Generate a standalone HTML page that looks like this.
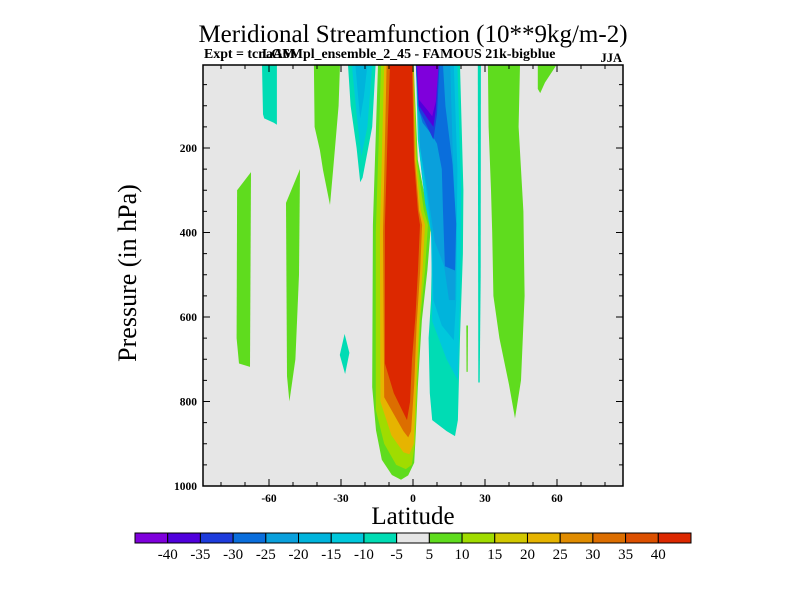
<!DOCTYPE html>
<html><head><meta charset="utf-8"><style>
body{margin:0;background:#fff;width:800px;height:600px;overflow:hidden}
svg{display:block;font-family:"Liberation Serif",serif}
</style></head><body>
<svg id="c" width="800" height="600" xmlns="http://www.w3.org/2000/svg">
<text x="413" y="42" text-anchor="middle" font-size="25">Meridional Streamfunction (10**9kg/m-2)</text>
<text x="204" y="58" font-size="13.9" font-weight="bold">Expt = tcnaA6Mpl_ensemble_2_45 - FAMOUS 21k-bigblue</text>
<text x="262" y="58" font-size="13.9" font-weight="bold">LGM</text>
<text x="622" y="62" text-anchor="end" font-size="12.5" font-weight="bold">JJA</text>
<text transform="translate(136,273) rotate(-90)" text-anchor="middle" font-size="26">Pressure (in hPa)</text>
<text x="413" y="524" text-anchor="middle" font-size="25">Latitude</text>
<g id="plot"></g><g id="axes"></g><g id="cbar"></g>
</svg>
<script>
const levelColors=["#7f00dc","#5000dc","#1e3cdc","#0a6edc","#0aa0dc","#00b4dc","#00c8dc","#00dcb4","#e6e6e6","#5fdc1e","#a0dc00","#d2c800","#e6b400","#e08c00","#dc6e00","#dc5000","#dc2800"];
const levelLabels=["-40","-35","-30","-25","-20","-15","-10","-5","5","10","15","20","25","30","35","40"];
const xTicks=[-60,-30,0,30,60];
const yTicks=[200,400,600,800,1000];
// contour regions: level index into levelColors, polygon in [lat, hPa]
const regionLevels=[7,7,9,9,9,9,7,7,6,5,9,9,9,10,12,14,16,7,6,5,4,3,2,1,0];
const regionPolys=[
[[-27.1,0],[-15.6,0],[-17,150],[-21,270],[-22,281],[-23.5,200],[-26,100]],
[[-62.9,0],[-56.7,0],[-56.7,145],[-58,140],[-62,130],[-62.5,120]],
[[-41.3,0],[-30.4,0],[-31,100],[-32.5,200],[-33.3,252],[-34.6,335],[-37.5,252],[-38.8,205],[-41,150]],
[[-73.3,300],[-67.5,257],[-67.9,718],[-72.5,710],[-73.5,650]],
[[-52.9,330],[-50,290],[-47.1,250],[-47.5,500],[-49,700],[-51.5,800],[-52.5,740]],
[[31.2,0],[44.6,0],[44,150],[46,350],[46.5,550],[45,750],[42.5,840],[40,760],[36,650],[33.5,550],[33,400],[32.5,300],[31.5,150]],
[[-30.5,690],[-28.5,640],[-26.5,685],[-28.3,735]],
[[27,0],[28.3,0],[28.2,500],[27.8,755],[27.2,755]],
[[-25.5,0],[-17,0],[-19,150],[-21.5,220],[-23.5,120]],
[[-24,0],[-19,0],[-20.5,80],[-22,130],[-23,70]],
[[52,0],[59.8,0],[55,45],[53,70],[52,60]],
[[22.2,620],[22.9,620],[22.8,730],[22.3,730]],
[[-14.6,0],[0.3,0],[2,228],[6,347],[7.5,382],[6,489],[3.7,607],[2,766],[1.2,870],[0.5,945],[-2,975],[-5,985],[-8.8,974],[-13,938],[-15.4,868],[-17,766],[-16.7,382]],
[[-13.3,0],[0.2,0],[1.6,228],[4.5,347],[6.2,382],[5,489],[3,607],[1.7,766],[0.8,900],[-0.5,950],[-3,960],[-7,950],[-12,900],[-15.5,820],[-15.5,400]],
[[-12,0],[0.1,0],[1.2,228],[3.2,347],[5,382],[4,489],[2.5,620],[1.3,760],[0.3,900],[-1.5,925],[-4,920],[-9,880],[-13.6,800],[-13.8,400]],
[[-11,0],[0,0],[0.8,228],[2.5,347],[3.8,382],[3,489],[1.5,620],[0.5,760],[-0.8,870],[-2,885],[-4,870],[-12,790],[-12.5,400]],
[[-9.6,0],[-0.4,0],[0.4,228],[2,347],[2.9,382],[2.1,489],[1,600],[-0.4,700],[-1.2,800],[-2.5,844],[-8,780],[-11.7,710],[-11.7,382],[-10.5,150]],
[[1.2,0],[19.6,0],[21,300],[20.8,450],[19.6,650],[18.7,844],[17.5,882],[14,870],[8,844],[7,780],[6.5,650],[7.5,560],[8,420],[7,360],[4,280],[2,180]],
[[1.2,0],[18.5,0],[20,300],[19.6,560],[18.7,750],[14,700],[8,610],[7.8,500],[7.5,400],[5,330],[2.5,200]],
[[1.2,0],[17,0],[18.5,250],[18,560],[17,655],[12,620],[8.5,560],[8,420],[6,320],[3,200]],
[[1.2,0],[15.5,0],[16.5,200],[18,420],[17.5,560],[15,560],[13,480],[9,420],[6,300],[3,200],[2,100]],
[[1.2,0],[12.5,0],[13.5,100],[16.5,240],[18,380],[17.5,490],[13.3,480],[12.5,350],[12,250],[10,190],[8,170],[4,140],[2,100]],
[[1.2,0],[11,0],[10,120],[8.5,180],[6,150],[2.5,110]],
[[1.5,0],[10.5,0],[9.5,110],[8.5,150],[6,130],[2.5,100]],
[[1.7,0],[10.7,0],[9.5,90],[8,125],[6,110],[2.5,86]]
];
const NS="http://www.w3.org/2000/svg";
const X0=203,X1=623,Y0=65,Y1=486;
const xs=lat=>413+lat*2.4;
const ys=p=>Math.max(Y0,Y1-(1000-p)*0.4225);
function mk(t,a,parent){const e=document.createElementNS(NS,t);for(const k in a)e.setAttribute(k,a[k]);parent.appendChild(e);return e;}
const plot=document.getElementById('plot');
const clip=mk('clipPath',{id:'pc'},plot);mk('rect',{x:X0,y:Y0,width:X1-X0,height:Y1-Y0},clip);
const bg=mk('rect',{x:X0,y:Y0,width:X1-X0,height:Y1-Y0,fill:'#e6e6e6'},plot);


const g=mk('g',{'clip-path':'url(#pc)'},plot);
regionPolys.forEach((poly,i)=>{
  const pts=poly.map(([la,p])=>xs(la).toFixed(1)+','+ys(p).toFixed(1)).join(' ');
  const el=mk('polygon',{points:pts,fill:levelColors[regionLevels[i]]},g);
  
  
});
const ax=document.getElementById('axes');
const frame=mk('rect',{x:X0,y:Y0,width:X1-X0,height:Y1-Y0,fill:'none',stroke:'#000','stroke-width':1.5},ax);


for(let la=-80;la<=80;la+=10){
  const x=xs(la),L=(la%30===0)?7:4;
  mk('line',{x1:x,x2:x,y1:Y1,y2:Y1-L,stroke:'#000'},ax);
  mk('line',{x1:x,x2:x,y1:Y0,y2:Y0+L,stroke:'#000'},ax);
}
for(let p=50;p<=1000;p+=50){
  const y=ys(p),L=(p%200===0)?7:4;
  mk('line',{x1:X0,x2:X0+L,y1:y,y2:y,stroke:'#000'},ax);
  mk('line',{x1:X1,x2:X1-L,y1:y,y2:y,stroke:'#000'},ax);
}
xTicks.forEach(v=>{const t=mk('text',{x:xs(v),y:502,'text-anchor':'middle','font-size':11.5,'font-weight':'bold'},ax);t.textContent=v;

});
yTicks.forEach(v=>{const t=mk('text',{x:197,y:ys(v)+4,'text-anchor':'end','font-size':11.5,'font-weight':'bold'},ax);t.textContent=v;

});
const cb=document.getElementById('cbar');
const CX=135,CW=556/17;
levelColors.forEach((c,i)=>{const r=mk('rect',{x:CX+i*CW,y:533,width:CW,height:10,fill:c,stroke:'#000','stroke-width':1},cb);

});
levelLabels.forEach((s,i)=>{const t=mk('text',{x:CX+(i+1)*CW,y:559,'text-anchor':'middle','font-size':15},cb);t.textContent=s;

});
</script>
</body></html>
